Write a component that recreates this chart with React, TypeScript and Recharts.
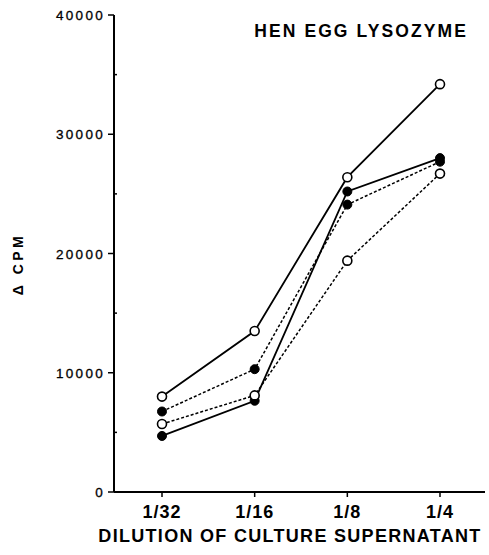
import React from 'react';
import { LineChart, Line, XAxis, YAxis, Customized } from 'recharts';

const categories = ['1/32', '1/16', '1/8', '1/4'];
const openSolid = [8000, 13500, 26400, 34200];
const filledDotted = [6750, 10300, 24100, 27700];
const openDotted = [5700, 8100, 19400, 26700];
const filledSolid = [4700, 7650, 25200, 28000];
const yTicks = [0, 5000, 10000, 15000, 20000, 25000, 30000, 35000, 40000];

const data = categories.map((c, i) => ({
  dilution: c,
  openSolid: openSolid[i],
  filledDotted: filledDotted[i],
  openDotted: openDotted[i],
  filledSolid: filledSolid[i],
}));

const FONT = '"Liberation Sans", Arial, Helvetica, sans-serif';

const YTick = (props: any) => {
  const { x, y, payload } = props;
  const v = payload.value;
  const major = v % 10000 === 0;
  if (!major) {
    return <line x1={x} x2={x + 3} y1={y} y2={y} stroke="#000" strokeWidth={1.5} />;
  }
  return (
    <g>
      <line x1={x} x2={x - 6} y1={y} y2={y} stroke="#000" strokeWidth={1.5} />
      <text x={x - 9} y={y + 5} textAnchor="end" fontFamily={FONT} fontSize={13.5} letterSpacing={2.3} fill="#000" stroke="#000" strokeWidth={0.3}>
        {v}
      </text>
    </g>
  );
};

const XTick = (props: any) => {
  const { x, y, payload } = props;
  return (
    <g>
      <line x1={x} x2={x} y1={y} y2={y + 5} stroke="#000" strokeWidth={1.5} />
      <text x={x} y={y + 26} textAnchor="middle" fontFamily={FONT} fontSize={18} fontWeight="bold" letterSpacing={1} fill="#000">
        {payload.value}
      </text>
    </g>
  );
};

const Labels = () => (
  <g>
    <text x={468} y={37} textAnchor="end" fontFamily={FONT} fontSize={17.5} fontWeight="bold" letterSpacing={2.1} fill="#000">
      HEN EGG LYSOZYME
    </text>
    <text x={290} y={542} textAnchor="middle" fontFamily={FONT} fontSize={18} fontWeight="bold" letterSpacing={1.3} fill="#000">
      DILUTION OF CULTURE SUPERNATANT
    </text>
    <text
      x={23}
      y={264}
      textAnchor="middle"
      transform="rotate(-90, 23, 264)"
      fontFamily={FONT}
      fontSize={14}
      fontWeight="bold"
      letterSpacing={3.5}
      fill="#000"
    >
      Δ CPM
    </text>
  </g>
);

const openDot = { r: 4.5, fill: '#fff', stroke: '#000', strokeWidth: 1.6, strokeDasharray: '0' };
const filledDot = { r: 4.5, fill: '#000', stroke: '#000', strokeWidth: 1, strokeDasharray: '0' };

export default function App() {
  return (
    <div style={{ position: 'absolute', left: 0, top: 0, background: '#fff' }}>
      <LineChart width={489} height={555} data={data} margin={{ top: 15, right: 4, left: 0, bottom: 0 }}>
        <XAxis
          dataKey="dilution"
          xAxisId="main"
          height={63}
          padding={{ left: 48, right: 45 }}
          tickSize={0}
          tickMargin={0}
          tickLine={false}
          tick={<XTick />}
          axisLine={{ stroke: '#000', strokeWidth: 2 }}
        />
        <XAxis dataKey="dilution" xAxisId="top" orientation="top" height={0} tick={false} tickLine={false} axisLine={{ stroke: '#000', strokeWidth: 2 }} />
        <YAxis
          yAxisId="main"
          width={114}
          domain={[0, 40000]}
          ticks={yTicks}
          interval={0}
          tickSize={0}
          tickMargin={0}
          tickLine={false}
          tick={<YTick />}
          axisLine={{ stroke: '#000', strokeWidth: 2 }}
        />
        <YAxis yAxisId="right" orientation="right" width={0} domain={[0, 40000]} tick={false} tickLine={false} axisLine={{ stroke: '#000', strokeWidth: 2 }} />
        <Line xAxisId="main" yAxisId="main" dataKey="openSolid" stroke="#000" strokeWidth={1.8} dot={openDot} isAnimationActive={false} />
        <Line xAxisId="main" yAxisId="main" dataKey="filledSolid" stroke="#000" strokeWidth={1.8} dot={filledDot} isAnimationActive={false} />
        <Line xAxisId="main" yAxisId="main" dataKey="filledDotted" stroke="#000" strokeWidth={1.5} strokeDasharray="3 2" dot={filledDot} isAnimationActive={false} />
        <Line xAxisId="main" yAxisId="main" dataKey="openDotted" stroke="#000" strokeWidth={1.5} strokeDasharray="3 2" dot={openDot} isAnimationActive={false} />
        <Customized component={Labels} />
      </LineChart>
    </div>
  );
}
